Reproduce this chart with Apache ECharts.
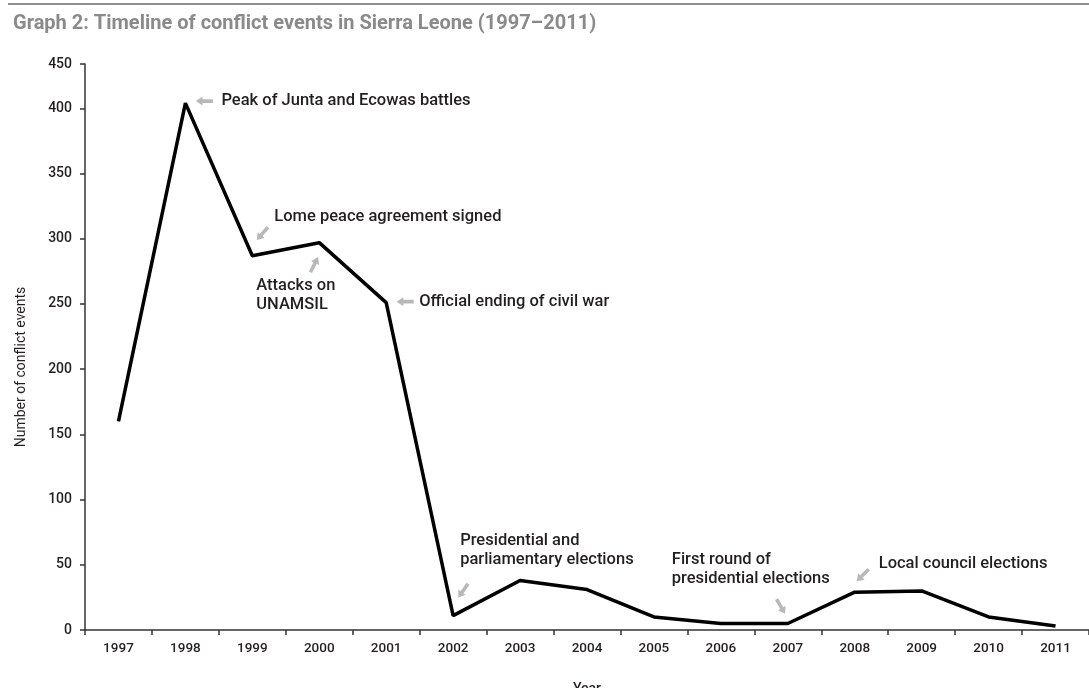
<!DOCTYPE html>
<html>
<head>
<meta charset="utf-8">
<script src="https://cdn.jsdelivr.net/npm/echarts@6/dist/echarts.min.js"></script>
<style>
html,body{margin:0;padding:0;background:#fff;}
#chart{width:1089px;height:688px;}
</style>
</head>
<body>
<div id="chart"></div>
<script>
const years = ['1997','1998','1999','2000','2001','2002','2003','2004','2005','2006','2007','2008','2009','2010','2011'];
const conflictEvents = [160, 404, 287, 297, 251, 11, 38, 31, 10, 5, 5, 29, 30, 10, 3];
const yTickValues = [0, 50, 100, 150, 200, 250, 300, 350, 400, 434];
const yTickLabels = ['0', '50', '100', '150', '200', '250', '300', '350', '400', '450'];
const annotationYears = ['1998', '1999', '2000', '2001', '2002', '2007', '2008'];
const annotationTexts = [
  'Peak of Junta and Ecowas battles',
  'Lome peace agreement signed',
  'Attacks on\nUNAMSIL',
  'Official ending of civil war',
  'Presidential and\nparliamentary elections',
  'First round of\npresidential elections',
  'Local council elections'
];

// layout/style for each annotation: [arrowDx, arrowDy, arrowRotate, textDx, textDy]
const annLayout = [
  [19, -2, 0, 36, -2],
  [10, -22, 49, 22, -39],
  [-5, 22, -117, -63, 53],
  [19, -1, 0, 33, -1],
  [10, -25, 55, 7, -65],
  [-7, -17, 120, -116, -54],
  [8, -17, 45, 24, -28]
];

const arrowPath = 'path://M0,5 L7,0 L7,3 L18,3 L18,7 L7,7 L7,10 Z';
const markData = [];
annotationYears.forEach((yr, i) => {
  const idx = years.indexOf(yr);
  const val = conflictEvents[idx];
  const L = annLayout[i];
  markData.push({
    coord: [yr, val],
    symbol: arrowPath,
    symbolSize: [17, 9],
    symbolRotate: L[2],
    symbolOffset: [L[0], L[1]],
    itemStyle: {color: '#b8b8b8'},
    label: {show: false}
  });
  markData.push({
    coord: [yr, val],
    symbol: 'circle',
    symbolSize: 0,
    itemStyle: {color: 'transparent'},
    label: {
      show: true,
      formatter: annotationTexts[i],
      position: 'inside',
      offset: [L[3], L[4]],
      align: 'left',
      verticalAlign: 'middle',
      color: '#231f20',
      fontFamily: 'Roboto',
      fontWeight: 500,
      fontSize: 16.5,
      lineHeight: 19
    }
  });
});

const chart = echarts.init(document.getElementById('chart'));
chart.setOption({
  animation: false,
  backgroundColor: '#fff',
  title: {
    text: 'Graph 2: Timeline of conflict events in Sierra Leone (1997\u20132011)',
    left: 8,
    top: 9,
    textStyle: {color: '#8a8a8a', fontFamily: 'Roboto', fontWeight: 'bold', fontSize: 20}
  },
  graphic: [{
    type: 'line',
    shape: {x1: 8, y1: 4, x2: 1089, y2: 4},
    style: {stroke: '#8f8f8f', lineWidth: 2}
  }],
  grid: {left: 85, right: 0, top: 64, bottom: 58, outerBoundsMode: 'none', containLabel: false},
  xAxis: {
    type: 'category',
    data: years,
    boundaryGap: true,
    name: 'Year',
    nameLocation: 'middle',
    nameGap: 52,
    nameTextStyle: {color: '#231f20', fontFamily: 'Roboto', fontWeight: 500, fontSize: 14},
    axisLine: {lineStyle: {color: '#333', width: 1.5}},
    axisTick: {show: true, length: 5, lineStyle: {color: '#333', width: 1.5}},
    axisLabel: {color: '#231f20', fontFamily: 'Roboto', fontWeight: 500, fontSize: 13.5, margin: 12}
  },
  yAxis: {
    type: 'value',
    min: 0,
    max: 434,
    name: 'Number of conflict events',
    nameLocation: 'middle',
    nameGap: 57,
    nameRotate: 90,
    nameTextStyle: {color: '#231f20', fontFamily: 'Roboto', fontSize: 14, padding: [0, 0, 0, -40]},
    splitLine: {show: false},
    axisLine: {show: true, lineStyle: {color: '#333', width: 1.5}},
    axisTick: {show: true, length: 5, customValues: yTickValues, lineStyle: {color: '#333', width: 1.5}},
    axisLabel: {
      customValues: yTickValues,
      color: '#231f20', fontFamily: 'Roboto', fontWeight: 500, fontSize: 14, margin: 13,
      formatter: function (v) {
        const i = yTickValues.indexOf(v);
        return i >= 0 ? yTickLabels[i] : '';
      }
    }
  },
  series: [{
    type: 'line',
    data: conflictEvents,
    symbol: 'none',
    lineStyle: {color: '#000', width: 3.5},
    markPoint: {
      silent: true,
      animation: false,
      data: markData
    }
  }]
});
</script>
</body>
</html>
